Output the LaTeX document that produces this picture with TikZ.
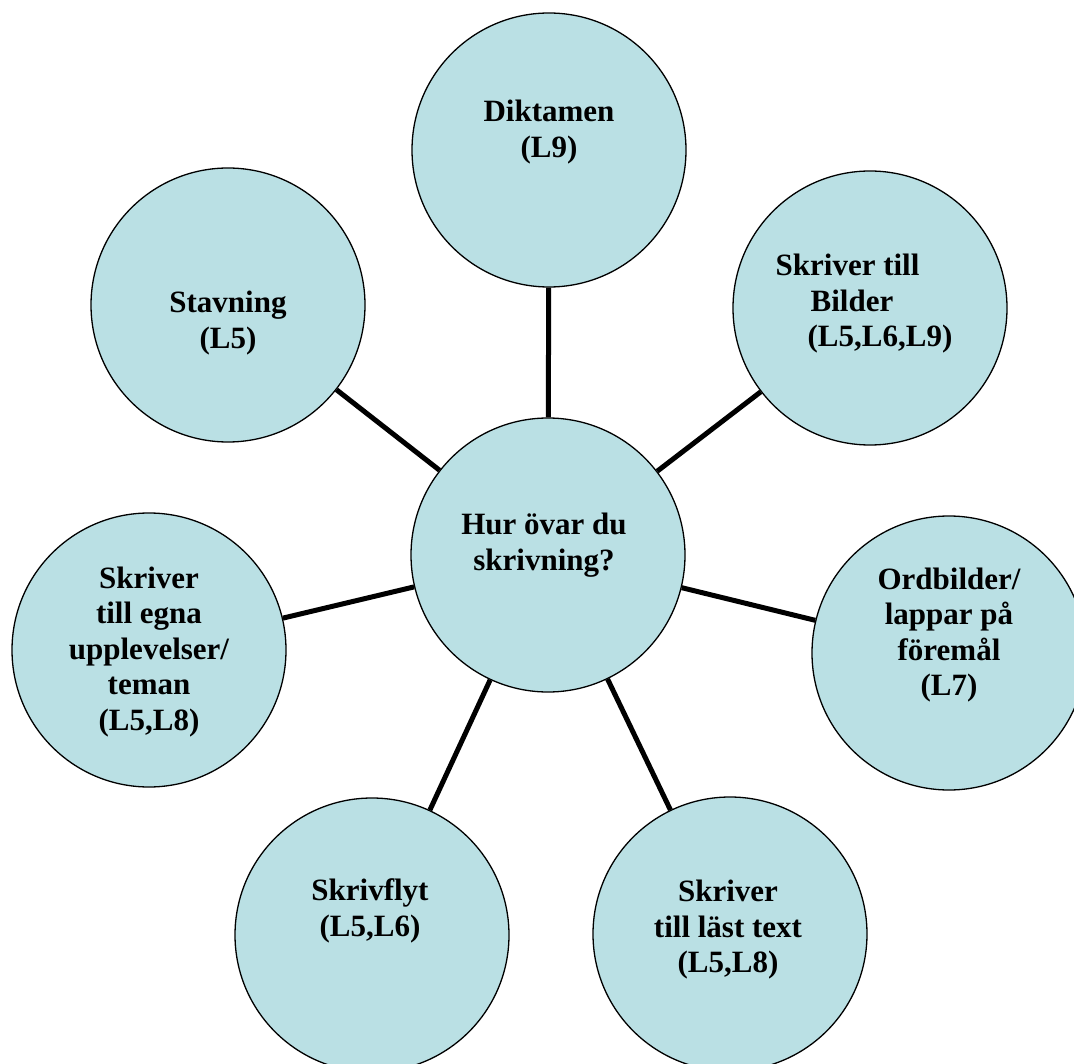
\documentclass[tikz,border=0pt]{standalone}
\usepackage{fontspec}
\setmainfont{Liberation Serif}
\usepackage{tikz}
\definecolor{bubblefill}{HTML}{BAE0E4}

\begin{document}
\begin{tikzpicture}[
  x=1pt, y=-1pt,
  bubble/.style={draw, circle, line width=1.3pt, fill=bubblefill, minimum size=274pt, inner sep=0pt},
  txt/.style={align=center, font=\fontsize{31}{35.5}\selectfont\bfseries, inner sep=0pt},
  spoke/.style={line width=5pt, black}
]
  \useasboundingbox (0,0) rectangle (1074,1064);

  \node[bubble] (hub) at (548,555) {};
  \node[bubble] (dikt) at (549,150) {};
  \node[bubble] (stav) at (228,305) {};
  \node[bubble] (bild) at (870,308) {};
  \node[bubble] (ord) at (949,653) {};
  \node[bubble] (egna) at (149,650) {};
  \node[bubble] (flyt) at (372,935) {};
  \node[bubble] (last) at (730,934) {};

  \draw[spoke] (hub) -- (dikt);
  \draw[spoke] (hub) -- (stav);
  \draw[spoke] (hub) -- (bild);
  \draw[spoke] (hub) -- (ord);
  \draw[spoke] (hub) -- (egna);
  \draw[spoke] (hub) -- (flyt);
  \draw[spoke] (hub) -- (last);

  % texts, shifted as in the original
  \node[txt] (hub-t) at ([xshift=-4pt,yshift=10pt]hub.center) {Hur övar du\\skrivning?};
  \node[txt] (dikt-t) at ([yshift=18pt]dikt.center) {Diktamen\\(L9)};
  \node[txt] (stav-t) at ([yshift=-18pt]stav.center) {Stavning\\(L5)};
  \node[txt, align=left] (bild-t) at ([xshift=-6pt,yshift=4pt]bild.center)
    {Skriver till\\\hspace*{35pt}Bilder\\\hspace*{32pt}(L5,L6,L9)};
  \node[txt] (ord-t) at ([yshift=18pt]ord.center) {Ordbilder/\\lappar på\\föremål\\(L7)};
  \node[txt] (egna-t) at ([yshift=-2pt]egna.center) {Skriver\\till egna\\upplevelser/\\teman\\(L5,L8)};
  \node[txt] (flyt-t) at ([xshift=-2pt,yshift=24pt]flyt.center) {Skrivflyt\\(L5,L6)};
  \node[txt] (last-t) at ([xshift=-2pt,yshift=4pt]last.center) {Skriver\\till läst text\\(L5,L8)};
\end{tikzpicture}
\end{document}
